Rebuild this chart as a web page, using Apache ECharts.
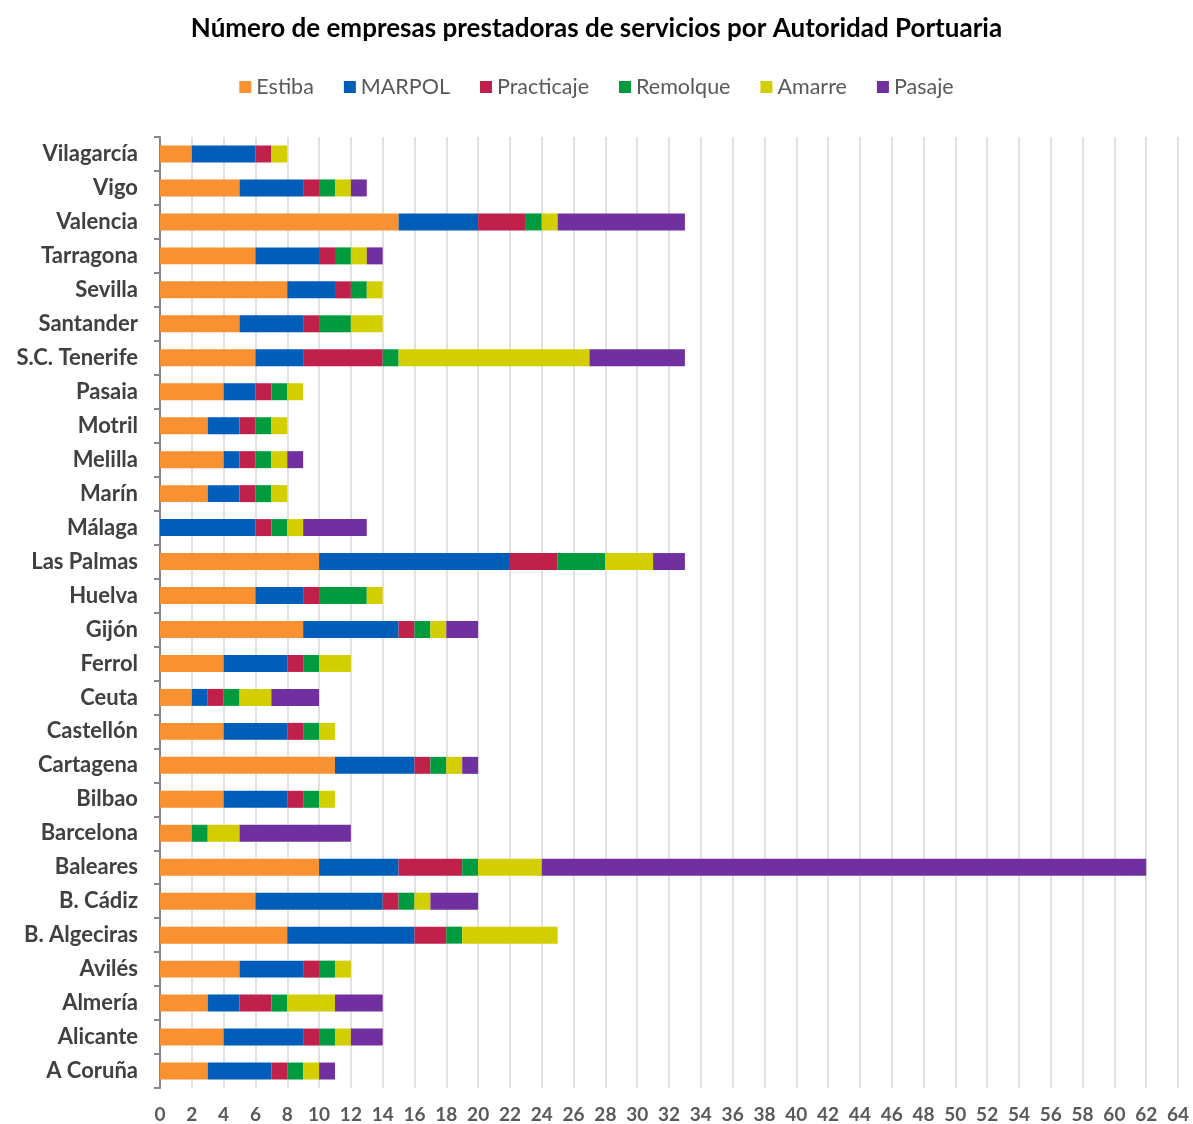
<!DOCTYPE html>
<html>
<head>
<meta charset="utf-8">
<script src="https://cdn.jsdelivr.net/npm/echarts@6/dist/echarts.min.js"></script>
<style>
html,body{margin:0;padding:0;background:#fff;}
#chart{width:1193px;height:1124px;}
</style>
</head>
<body>
<div id="chart"></div>
<script>
const categories = ["A Coruña","Alicante","Almería","Avilés","B. Algeciras","B. Cádiz","Baleares","Barcelona","Bilbao","Cartagena","Castellón","Ceuta","Ferrol","Gijón","Huelva","Las Palmas","Málaga","Marín","Melilla","Motril","Pasaia","S.C. Tenerife","Santander","Sevilla","Tarragona","Valencia","Vigo","Vilagarcía"];
const estiba     = [3,4,3,5,8,6,10,2,4,11,4,2,4,9,6,10,0,3,4,3,4,6,5,8,6,15,5,2];
const marpol     = [4,5,2,4,8,8,5,0,4,5,4,1,4,6,3,12,6,2,1,2,2,3,4,3,4,5,4,4];
const practicaje = [1,1,2,1,2,1,4,0,1,1,1,1,1,1,1,3,1,1,1,1,1,5,1,1,1,3,1,1];
const remolque   = [1,1,1,1,1,1,1,1,1,1,1,1,1,1,3,3,1,1,1,1,1,1,2,1,1,1,1,0];
const amarre     = [1,1,3,1,6,1,4,2,1,1,1,2,2,1,1,3,1,1,1,1,1,12,2,1,1,1,1,1];
const pasaje     = [1,2,3,0,0,3,38,7,0,1,0,3,0,2,0,2,4,0,1,0,0,6,0,0,1,8,1,0];
const seriesNames = ["Estiba","MARPOL","Practicaje","Remolque","Amarre","Pasaje"];
const colors = ["#F79131","#005EB8","#C0214B","#009B3E","#D2CE00","#7030A0"];
const seriesData = [estiba,marpol,practicaje,remolque,amarre,pasaje];

const chart = echarts.init(document.getElementById('chart'), null, {renderer:'canvas'});
const FONT = 'Lato, "Open Sans", sans-serif';
chart.setOption({
  animation:false,
  backgroundColor:'#fff',
  color: colors,
  title:{
    text:'Número de empresas prestadoras de servicios por Autoridad Portuaria',
    left:'center', top:11,
    textStyle:{fontFamily:FONT,fontSize:26,fontWeight:'bold',color:'#000'}
  },
  legend:{
    top:71, left:'center',
    itemWidth:12, itemHeight:12, itemGap:30,
    icon:'rect',
    textStyle:{fontFamily:FONT,fontSize:21.5,color:'#595959'},
    data: seriesNames
  },
  grid:{left:160, right:15, top:137, bottom:36, containLabel:false},
  xAxis:{
    type:'value', min:0, max:64, interval:2,
    axisLine:{show:false}, axisTick:{show:false},
    splitLine:{show:true, lineStyle:{color:'#d9d9d9', width:1.5}},
    axisLabel:{fontFamily:FONT,fontSize:19,fontWeight:'bold',color:'#595959',margin:17}
  },
  yAxis:{
    type:'category', data:categories,
    axisLine:{show:true, lineStyle:{color:'#868686', width:2}},
    axisTick:{show:true, length:6, inside:false, lineStyle:{color:'#868686', width:2}},
    axisLabel:{fontFamily:FONT,fontSize:22,fontWeight:'bold',color:'#404040',margin:22}
  },
  series: seriesNames.map((n,i)=>({
    name:n, type:'bar', stack:'total', barWidth:'50%',
    data: seriesData[i],
    itemStyle:{color:colors[i]}
  }))
});
</script>
</body>
</html>
